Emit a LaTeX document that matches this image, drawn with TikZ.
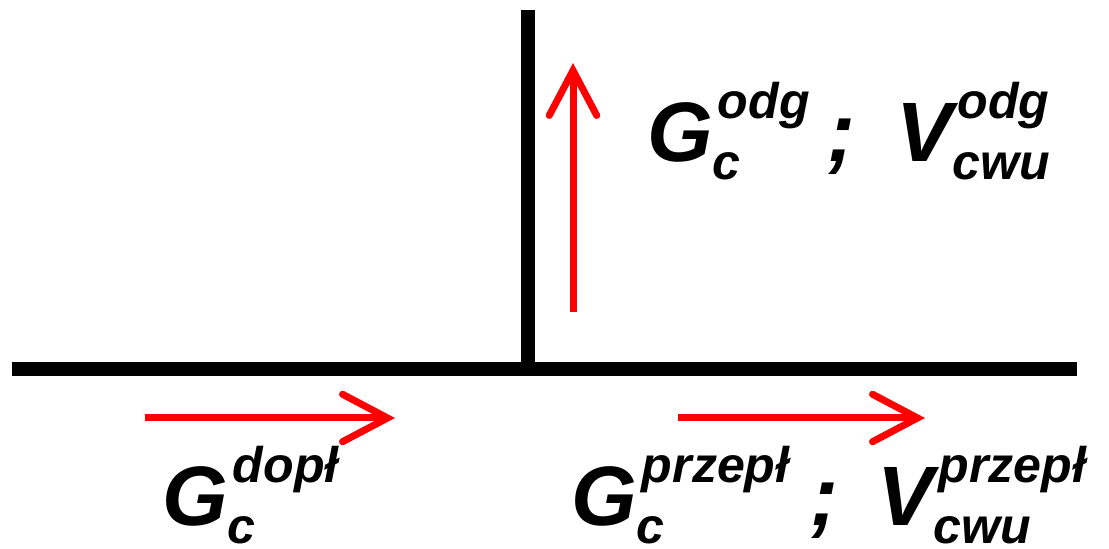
\documentclass[tikz,border=0pt]{standalone}
\usepackage{fontspec}
\setmainfont{Liberation Sans}
\usepackage{tikz}
\usetikzlibrary{arrows.meta}
\definecolor{flowred}{HTML}{FF0000}

% index font (sub- and superscripts)
\newcommand{\idxfont}{\fontsize{28.5pt}{28.5pt}\selectfont}
% symbol with subscript #2 and superscript #3
\newcommand{\flowsym}[3]{#1%
  \setbox0=\hbox{\idxfont #2}\setbox2=\hbox{\idxfont\kern0.1cm #3}%
  \ifdim\wd0>\wd2 \rlap{\raisebox{0.86cm}{\copy2}}\raisebox{-0.35cm}{\copy0}%
  \else\rlap{\raisebox{-0.35cm}{\copy0}}\raisebox{0.86cm}{\copy2}\fi}

\begin{document}
\begin{tikzpicture}[
    pipe/.style={line width=0.28cm, black},
    flow/.style={-{Straight Barb[length=0.9cm, width=0.95cm, line cap=round]},
        line width=0.14cm, flowred},
    lbl/.style={font=\fontsize{48pt}{48pt}\selectfont\bfseries\itshape,
        inner sep=0pt, anchor=base west}
]
\useasboundingbox (0,0) rectangle (22.18,10.98);

% ===== Pipes =====
\coordinate (mainL) at (0.24,3.6);
\coordinate (mainR) at (21.54,3.6);
\coordinate (tee) at (10.55,3.6);
\coordinate (branch) at (10.55,10.78);
\draw[pipe] (mainL) -- (mainR);
\draw[pipe] (tee) -- (branch);

% ===== Flow arrows =====
\coordinate (inA) at (2.9,2.62);
\coordinate (inB) at (7.9,2.62);
\coordinate (outA) at (13.56,2.62);
\coordinate (outB) at (18.5,2.62);
\coordinate (upA) at (11.46,4.74);
\coordinate (upB) at (11.46,9.72);
\draw[flow] (inA) -- (inB);
\draw[flow] (outA) -- (outB);
\draw[flow] (upA) -- (upB);

% ===== Labels =====
\node[lbl] (odg) at (12.94,7.74) {%
    \flowsym{G}{c}{odg}\kern0.35cm;\kern0.82cm\flowsym{V}{cwu}{odg}};
\node[lbl] (dopl) at (3.24,0.46) {\flowsym{G}{c}{dopł}};
\node[lbl] (przepl) at (11.42,0.46) {%
    \flowsym{G}{c}{przepł}\kern0.42cm;\kern0.78cm\flowsym{V}{cwu}{przepł}};

\end{tikzpicture}
\end{document}
